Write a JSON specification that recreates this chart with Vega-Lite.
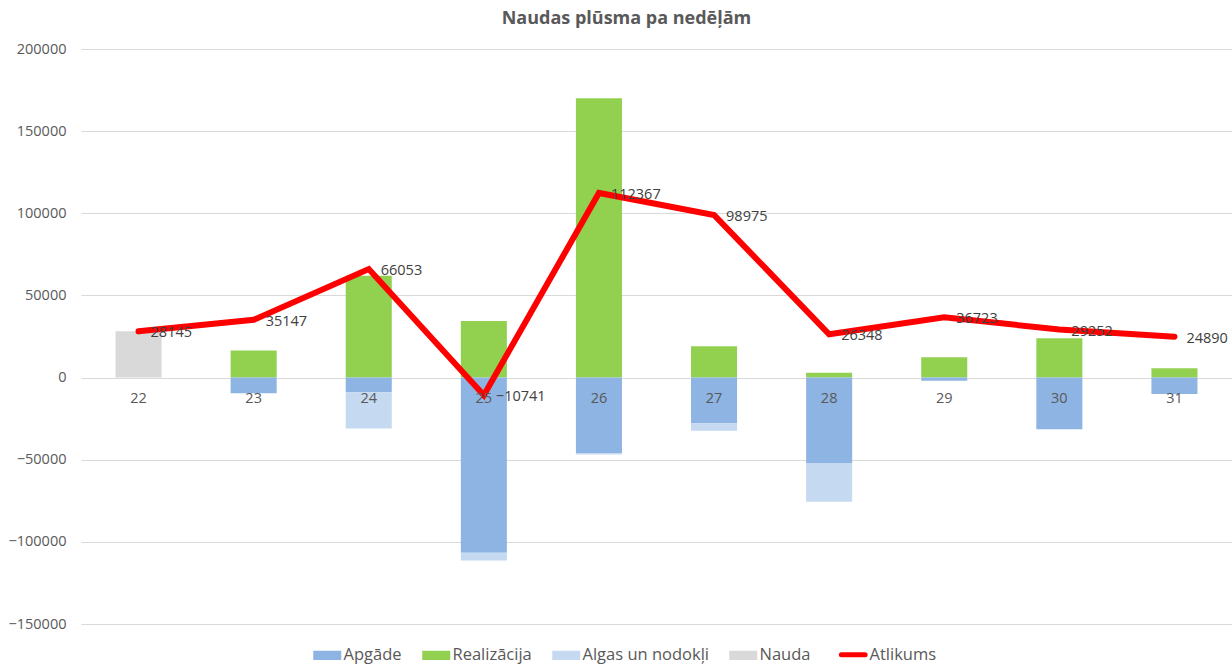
{
  "$schema": "https://vega.github.io/schema/vega-lite/v6.json",
  "width": 1151,
  "height": 575,
  "autosize": {"type": "none"},
  "padding": {"left": 81, "top": 49, "right": 0, "bottom": 43},
  "background": "white",
  "title": {"text": "Naudas plūsma pa nedēļām", "font": "Open Sans", "fontSize": 18, "fontWeight": "bold", "color": "#595959", "anchor": "middle", "offset": 13, "dx": -30},
  "config": {"view": {"stroke": null}, "font": "Open Sans"},
  "data": {"values": [
    {"week": "22", "series": "Nauda", "value": 28145, "ord": 0},
    {"week": "23", "series": "Realizācija", "value": 16500, "ord": 0},
    {"week": "23", "series": "Apgāde", "value": -9498, "ord": 1},
    {"week": "24", "series": "Realizācija", "value": 62000, "ord": 0},
    {"week": "24", "series": "Apgāde", "value": -9000, "ord": 1},
    {"week": "24", "series": "Algas un nodokļi", "value": -22047, "ord": 2},
    {"week": "25", "series": "Realizācija", "value": 34500, "ord": 0},
    {"week": "25", "series": "Apgāde", "value": -106700, "ord": 1},
    {"week": "25", "series": "Algas un nodokļi", "value": -4594, "ord": 2},
    {"week": "26", "series": "Realizācija", "value": 170000, "ord": 0},
    {"week": "26", "series": "Apgāde", "value": -45900, "ord": 1},
    {"week": "26", "series": "Algas un nodokļi", "value": -992, "ord": 2},
    {"week": "27", "series": "Realizācija", "value": 19000, "ord": 0},
    {"week": "27", "series": "Apgāde", "value": -27800, "ord": 1},
    {"week": "27", "series": "Algas un nodokļi", "value": -4592, "ord": 2},
    {"week": "28", "series": "Realizācija", "value": 3000, "ord": 0},
    {"week": "28", "series": "Apgāde", "value": -52000, "ord": 1},
    {"week": "28", "series": "Algas un nodokļi", "value": -23627, "ord": 2},
    {"week": "29", "series": "Realizācija", "value": 12300, "ord": 0},
    {"week": "29", "series": "Apgāde", "value": -1925, "ord": 1},
    {"week": "30", "series": "Realizācija", "value": 24000, "ord": 0},
    {"week": "30", "series": "Apgāde", "value": -31471, "ord": 1},
    {"week": "31", "series": "Realizācija", "value": 5600, "ord": 0},
    {"week": "31", "series": "Apgāde", "value": -9962, "ord": 1},
    {"week": "22", "series": "Atlikums", "value": 28145, "ord": 0},
    {"week": "23", "series": "Atlikums", "value": 35147, "ord": 0},
    {"week": "24", "series": "Atlikums", "value": 66053, "ord": 0},
    {"week": "25", "series": "Atlikums", "value": -10741, "ord": 0},
    {"week": "26", "series": "Atlikums", "value": 112367, "ord": 0},
    {"week": "27", "series": "Atlikums", "value": 98975, "ord": 0},
    {"week": "28", "series": "Atlikums", "value": 26348, "ord": 0},
    {"week": "29", "series": "Atlikums", "value": 36723, "ord": 0},
    {"week": "30", "series": "Atlikums", "value": 29252, "ord": 0},
    {"week": "31", "series": "Atlikums", "value": 24890, "ord": 0}
  ]},
  "encoding": {
    "x": {
      "field": "week", "type": "ordinal",
      "scale": {"paddingInner": 0.6, "paddingOuter": 0.3},
      "axis": {"title": null, "labelAngle": 0, "domain": false, "ticks": false, "offset": -246.4, "labelPadding": 14, "labelFontSize": 14.5, "labelColor": "#595959", "labelFont": "Open Sans", "zindex": 1}
    }
  },
  "layer": [
    {
      "transform": [{"filter": "datum.series !== 'Atlikums'"}],
      "mark": {"type": "bar"},
      "encoding": {
        "y": {
          "field": "value", "type": "quantitative", "stack": "zero",
          "scale": {"domain": [-150000, 200000], "nice": false, "zero": false},
          "axis": {"title": null, "values": [-150000, -100000, -50000, 0, 50000, 100000, 150000, 200000], "format": "d", "domain": false, "ticks": false, "grid": true, "gridColor": "#D9D9D9", "labelPadding": 15, "labelFontSize": 14.5, "labelColor": "#595959", "labelFont": "Open Sans"}
        },
        "color": {
          "field": "series", "type": "nominal",
          "scale": {"domain": ["Apgāde", "Realizācija", "Algas un nodokļi", "Nauda", "Atlikums"], "range": ["#8DB4E2", "#92D050", "#C5D9F1", "#D9D9D9", "#FF0000"]},
          "legend": {
            "title": null, "orient": "none", "legendX": 238, "legendY": 597, "direction": "horizontal",
            "labelFontSize": 16.5, "labelColor": "#595959", "labelFont": "Open Sans", "symbolSize": 784, "labelOffset": 8, "columnPadding": 20,
            "encode": {"symbols": {"update": {
              "shape": {"signal": "datum.value === 'Atlikums' ? 'M-0.85,0H0.85' : 'M-1,-0.33H1V0.33H-1Z'"},
              "fill": {"signal": "datum.value === 'Atlikums' ? 'transparent' : scale('color', datum.value)"},
              "stroke": {"signal": "datum.value === 'Atlikums' ? '#FF0000' : 'transparent'"},
              "strokeWidth": {"signal": "datum.value === 'Atlikums' ? 5 : 0"},
              "strokeCap": {"value": "round"},
              "opacity": {"value": 1}
            }}}
          }
        },
        "order": {"field": "ord", "type": "quantitative"}
      }
    },
    {
      "transform": [{"filter": "datum.series === 'Atlikums'"}],
      "mark": {"type": "line", "strokeWidth": 6, "strokeCap": "round", "strokeJoin": "miter"},
      "encoding": {
        "y": {"field": "value", "type": "quantitative"},
        "color": {"field": "series", "type": "nominal"}
      }
    },
    {
      "transform": [{"filter": "datum.series === 'Atlikums'"}],
      "mark": {"type": "text", "align": "left", "baseline": "middle", "dx": 12, "dy": 2, "fontSize": 14.5, "color": "#404040", "font": "Open Sans"},
      "encoding": {
        "y": {"field": "value", "type": "quantitative"},
        "text": {"field": "value", "type": "quantitative", "format": "d"}
      }
    }
  ]
}
